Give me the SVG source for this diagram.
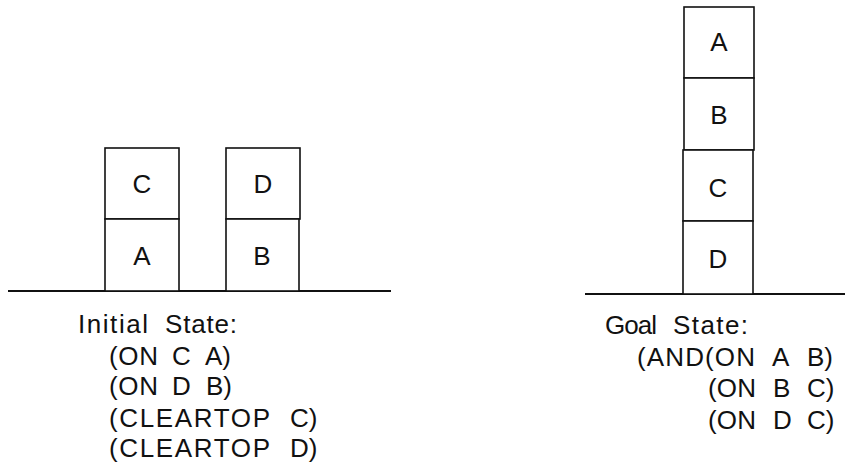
<svg xmlns="http://www.w3.org/2000/svg" width="845" height="468" viewBox="0 0 845 468">
<style>
.blk{fill:#fff;stroke:#111;stroke-width:1.6}
.gnd{stroke:#111;stroke-width:2.2;fill:none}
.lbl{font-family:"Liberation Sans",Arial,sans-serif;font-size:26px;fill:#111;text-anchor:middle}
.txt{font-family:"Liberation Sans",Arial,sans-serif;font-size:26px;fill:#111}
</style>
<rect width="845" height="468" fill="#fff"/>
<g id="ground">
<line class="gnd" x1="8" y1="291" x2="391" y2="291"/>
<line class="gnd" x1="585" y1="294" x2="845" y2="294"/>
</g>
<g id="initial-C"><rect class="blk" x="105" y="148" width="74" height="71"/><text class="lbl" x="142" y="193">C</text></g>
<g id="initial-A"><rect class="blk" x="105" y="219" width="74" height="72"/><text class="lbl" x="142" y="265">A</text></g>
<g id="initial-D"><rect class="blk" x="226" y="148" width="74" height="71"/><text class="lbl" x="263" y="193">D</text></g>
<g id="initial-B"><rect class="blk" x="226" y="219" width="73" height="72"/><text class="lbl" x="262" y="265">B</text></g>
<g id="goal-A"><rect class="blk" x="684" y="7" width="70" height="71"/><text class="lbl" x="719" y="51">A</text></g>
<g id="goal-B"><rect class="blk" x="684" y="78" width="70" height="72"/><text class="lbl" x="719" y="124">B</text></g>
<g id="goal-C"><rect class="blk" x="683" y="150" width="70" height="71"/><text class="lbl" x="718" y="197">C</text></g>
<g id="goal-D"><rect class="blk" x="683" y="221" width="70" height="73"/><text class="lbl" x="718" y="268">D</text></g>
<g id="connectors"/>
<g id="initial-text">
<text class="txt" y="333"><tspan x="78" textLength="70">Initial</tspan><tspan x="165" textLength="72">State:</tspan></text>
<text class="txt" y="365"><tspan x="109" textLength="49">(ON</tspan><tspan x="172">C</tspan><tspan x="205">A)</tspan></text>
<text class="txt" y="395"><tspan x="109" textLength="49">(ON</tspan><tspan x="172">D</tspan><tspan x="206">B)</tspan></text>
<text class="txt" y="427"><tspan x="109" textLength="161">(CLEARTOP</tspan><tspan x="290">C)</tspan></text>
<text class="txt" y="457"><tspan x="109" textLength="161">(CLEARTOP</tspan><tspan x="290">D)</tspan></text>
</g>
<g id="goal-text">
<text class="txt" y="334"><tspan x="605" textLength="52">Goal</tspan><tspan x="673" textLength="75">State:</tspan></text>
<text class="txt" y="366"><tspan x="637" textLength="118">(AND(ON</tspan><tspan x="772">A</tspan><tspan x="807">B)</tspan></text>
<text class="txt" y="397"><tspan x="708" textLength="48">(ON</tspan><tspan x="773">B</tspan><tspan x="807">C)</tspan></text>
<text class="txt" y="429"><tspan x="708" textLength="48">(ON</tspan><tspan x="773">D</tspan><tspan x="807">C)</tspan></text>
</g>
</svg>
